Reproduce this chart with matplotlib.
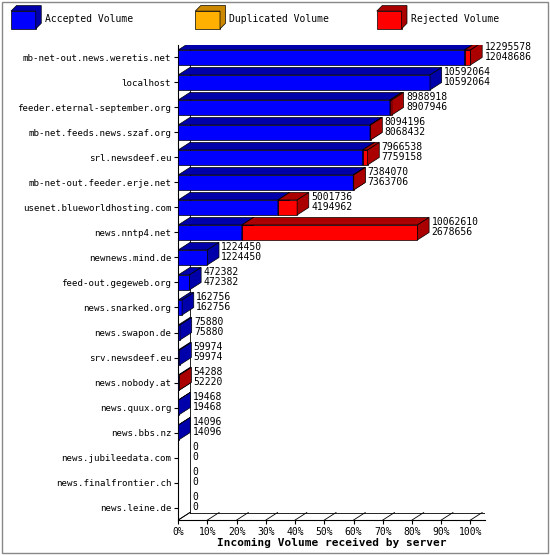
import matplotlib
matplotlib.use("Agg")
import matplotlib.pyplot as plt
from matplotlib.patches import Polygon, Rectangle

servers = ["mb-net-out.news.weretis.net", "localhost", "feeder.eternal-september.org",
           "mb-net.feeds.news.szaf.org", "srl.newsdeef.eu", "mb-net-out.feeder.erje.net",
           "usenet.blueworldhosting.com", "news.nntp4.net", "newnews.mind.de",
           "feed-out.gegeweb.org", "news.snarked.org", "news.swapon.de", "srv.newsdeef.eu",
           "news.nobody.at", "news.quux.org", "news.bbs.nz", "news.jubileedata.com",
           "news.finalfrontier.ch", "news.leine.de"]
total = [12295578, 10592064, 8988918, 8094196, 7966538, 7384070, 5001736, 10062610,
         1224450, 472382, 162756, 75880, 59974, 54288, 19468, 14096, 0, 0, 0]
accepted = [12048686, 10592064, 8907946, 8068432, 7759158, 7363706, 4194962, 2678656,
            1224450, 472382, 162756, 75880, 59974, 52220, 19468, 14096, 0, 0, 0]
pct_ticks = [0, 10, 20, 30, 40, 50, 60, 70, 80, 90, 100]

mono = "DejaVu Sans Mono"
fig = plt.figure(figsize=(5.5, 5.55), dpi=100)
fig.patches.append(Rectangle((0.003, 0.003), 0.994, 0.994, transform=fig.transFigure,
                             fill=False, ec="#888888", lw=1))
ax = fig.add_axes([0.324, 0.063, 0.558, 0.856])
vmax = max(total)
n = len(servers)
ax.set_xlim(0, 105)
ax.set_ylim(n - 0.5, -0.5)
dx, dy = 4.0, 0.3
h = 0.6

def bar3d(x0, x1, y, face, top, side):
    if x1 <= x0:
        return
    ax.add_patch(Rectangle((x0, y - h / 2), x1 - x0, h, fc=face, ec="black", lw=0.5, zorder=3))
    ax.add_patch(Polygon([(x0, y - h / 2), (x0 + dx, y - h / 2 - dy), (x1 + dx, y - h / 2 - dy),
                          (x1, y - h / 2)], fc=top, ec="black", lw=0.5, zorder=3))
    ax.add_patch(Polygon([(x1, y - h / 2), (x1 + dx, y - h / 2 - dy), (x1 + dx, y + h / 2 - dy),
                          (x1, y + h / 2)], fc=side, ec="black", lw=0.5, zorder=3))

for i in range(n):
    a = accepted[i] / vmax * 100
    t = total[i] / vmax * 100
    bar3d(0, a, i, "#0000ff", "#0000aa", "#0000aa")
    bar3d(a, t, i, "#ff0000", "#aa0000", "#aa0000")
    ax.text(t + dx + 0.8, i - 0.22, f"{total[i]}\n{accepted[i]}", fontsize=7, family=mono,
            va="center", ha="left", linespacing=1.0)

ax.plot([dx, dx], [n - 0.5 - dy, -0.5], color="black", lw=0.6, zorder=1)
ax.plot([0, dx], [n - 0.5, n - 0.5 - dy], color="black", lw=0.6, zorder=1)
ax.plot([dx, 105], [n - 0.5 - dy, n - 0.5 - dy], color="black", lw=0.6, zorder=1)
for p in pct_ticks:
    ax.plot([p, p + dx], [n - 0.5, n - 0.5 - dy], color="black", lw=0.6, zorder=1)

for s in ["top", "right"]:
    ax.spines[s].set_visible(False)
ax.set_yticks(range(n))
ax.set_yticklabels(servers, family=mono, fontsize=6.6)
ax.set_xticks(pct_ticks)
ax.set_xticklabels([f"{p}%" for p in pct_ticks], family=mono, fontsize=7)
ax.tick_params(length=3, pad=2)
ax.set_xlabel("Incoming Volume received by server", family=mono, fontsize=8,
              fontweight="bold", labelpad=1)

for x, col, top, lab in [(0.02, "#0000ff", "#0000aa", "Accepted Volume"),
                         (0.355, "#ffb000", "#cc8800", "Duplicated Volume"),
                         (0.685, "#ff0000", "#aa0000", "Rejected Volume")]:
    fig.patches.append(Rectangle((x, 0.948), 0.045, 0.032, transform=fig.transFigure,
                                 fc=col, ec="black", lw=0.5))
    fig.patches.append(Polygon([(x, 0.98), (x + 0.01, 0.99), (x + 0.055, 0.99), (x + 0.055, 0.958),
                                (x + 0.045, 0.948), (x + 0.045, 0.98)], closed=True,
                               transform=fig.transFigure, fc=top, ec="black", lw=0.5))
    fig.text(x + 0.062, 0.965, lab, family=mono, fontsize=7, va="center")

fig.savefig("out.png", dpi=100)
